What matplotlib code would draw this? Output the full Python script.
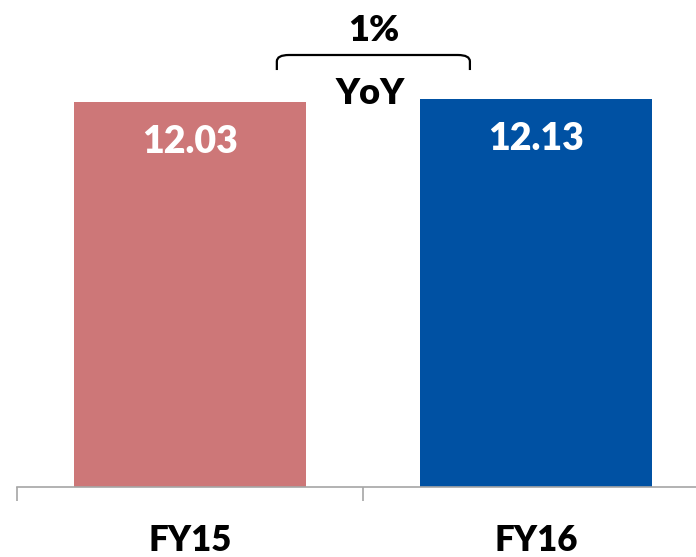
import matplotlib.pyplot as plt
from matplotlib.path import Path
from matplotlib.patches import PathPatch

years = ["FY15", "FY16"]
values = [12.03, 12.13]
colors = ["#CD7778", "#0051A3"]

plt.rcParams['font.family'] = ['Lato', 'DejaVu Sans']
WEIGHT = "heavy"

fig = plt.figure(figsize=(6.96, 5.57), dpi=100)
# plot area runs past the right edge of the canvas
ax = fig.add_axes([17 / 696, (557 - 487) / 557, 692 / 696, 487 / 557])
ax.set_xlim(-0.5, 1.5)
ax.set_ylim(0, 487 / 32.0)

x = range(len(years))
bars = ax.bar(x, values, width=0.67, color=colors, zorder=2)
for b, v in zip(bars, values):
    ax.text(b.get_x() + b.get_width() / 2, v - 1.25, f"{v:.2f}",
            ha="center", va="center", color="white",
            fontsize=27, fontweight=WEIGHT)

# category axis with separators between groups
ax.spines[["top", "right", "left"]].set_visible(False)
ax.spines["bottom"].set_color("#A6A6A6")
ax.spines["bottom"].set_linewidth(1.2)
ax.set_yticks([])
ax.set_xticks([-0.5, 0.5, 1.5], minor=False)
ax.set_xticklabels([])
ax.tick_params(axis="x", length=10, width=1.2, color="#A6A6A6")
for i, name in enumerate(years):
    ax.text(i, -1.68, name, ha="center", va="center",
            fontsize=25, fontweight=WEIGHT, color="black", clip_on=False)

# YoY bracket
growth = (values[1] - values[0]) / values[0] * 100
x0, x1 = 0.251, 0.809
ytop, ybot = 13.5, 13.03
r = 0.035
verts = [(x0, ybot), (x0, ytop - 0.2), (x0, ytop), (x0 + r, ytop),
         (x1 - r, ytop), (x1, ytop), (x1, ytop - 0.2), (x1, ybot)]
codes = [Path.MOVETO, Path.LINETO, Path.CURVE3, Path.CURVE3,
         Path.LINETO, Path.CURVE3, Path.CURVE3, Path.LINETO]
ax.add_patch(PathPatch(Path(verts, codes), fill=False, lw=1.6,
                       edgecolor="black", clip_on=False))
xm = (x0 + x1) / 2
ax.text(xm, 14.28, f"{round(growth)}%", ha="center", va="center",
        fontsize=26, fontweight=WEIGHT, clip_on=False)
ax.text(xm - 0.01, 12.31, "YoY", ha="center", va="center",
        fontsize=26, fontweight=WEIGHT, clip_on=False)

fig.savefig("out.png", dpi=100)
